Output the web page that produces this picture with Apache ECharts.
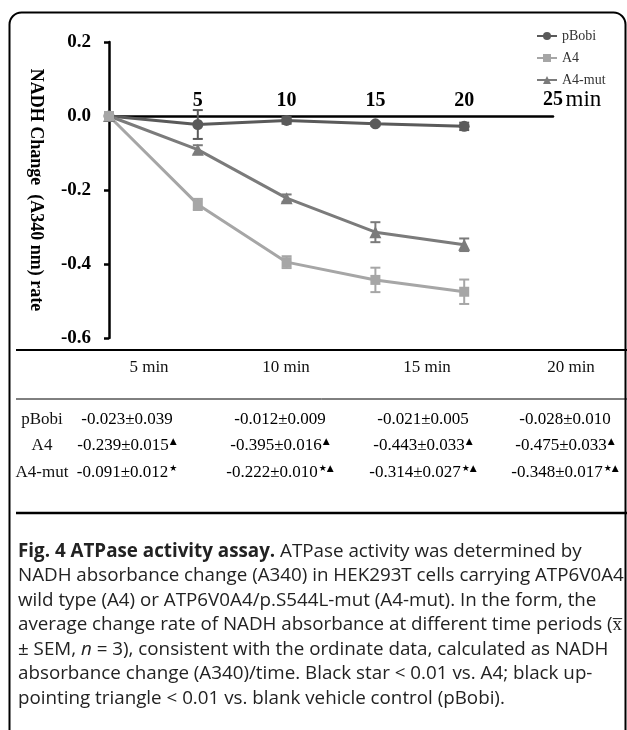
<!DOCTYPE html>
<html>
<head>
<meta charset="utf-8">
<title>ATPase activity assay</title>
<script src="https://cdn.jsdelivr.net/npm/echarts@6/dist/echarts.min.js"></script>
<style>
  html, body { margin: 0; padding: 0; background: #fff; }
  #chart { width: 627px; height: 730px; }
</style>
</head>
<body>
<div id="chart"></div>
<script>
// time points (min)
var times = [0, 5, 10, 15, 20];
var timeLabels = ['5 min', '10 min', '15 min', '20 min'];

// mean NADH change and SEM
var seriesNames = ['pBobi', 'A4', 'A4-mut'];
var pBobiMean = [0, -0.023, -0.012, -0.021, -0.028];
var pBobiSem  = [0, 0.039, 0.009, 0.005, 0.010];
var a4Mean    = [0, -0.239, -0.395, -0.443, -0.475];
var a4Sem     = [0, 0.015, 0.016, 0.033, 0.033];
var mutMean   = [0, -0.091, -0.222, -0.314, -0.348];
var mutSem    = [0, 0.012, 0.010, 0.027, 0.017];

// significance marks in the table (star vs A4, triangle vs pBobi)
var pBobiSig = ['', '', '', ''];
var a4Sig    = ['▲', '▲', '▲', '▲'];
var mutSig   = ['★', '★▲', '★▲', '★▲'];

var colors = { 'pBobi': '#5a5a5a', 'A4': '#a6a6a6', 'A4-mut': '#7b7b7b' };
var serif = 'Liberation Serif, Times New Roman, serif';

function pts(mean) {
  return times.map(function (t, i) { return [t, mean[i]]; });
}
function errPts(mean, sem) {
  return times.map(function (t, i) { return [t, mean[i], sem[i]]; });
}

function errorBar(color) {
  return function (params, api) {
    var x = api.value(0), m = api.value(1), e = api.value(2);
    if (!e) return;
    var top = api.coord([x, m + e]);
    var bot = api.coord([x, m - e]);
    var w = 5;
    var st = { stroke: color, lineWidth: 2 };
    return {
      type: 'group',
      children: [
        { type: 'line', shape: { x1: top[0], y1: top[1], x2: bot[0], y2: bot[1] }, style: st },
        { type: 'line', shape: { x1: top[0] - w, y1: top[1], x2: top[0] + w, y2: top[1] }, style: st },
        { type: 'line', shape: { x1: bot[0] - w, y1: bot[1], x2: bot[0] + w, y2: bot[1] }, style: st }
      ]
    };
  };
}

function lineSeries(name, mean, symbol, size) {
  return {
    name: name,
    type: 'line',
    data: pts(mean),
    symbol: symbol,
    symbolSize: size,
    showAllSymbol: true,
    lineStyle: { color: colors[name], width: 3 },
    itemStyle: { color: colors[name] },
    z: 3
  };
}
function errSeries(name, mean, sem) {
  return {
    name: name + ' err',
    type: 'custom',
    data: errPts(mean, sem),
    encode: { x: 0, y: 1 },
    renderItem: errorBar(colors[name]),
    z: 3
  };
}

// ---- table + caption as graphic text ----
var colCenters = [127, 280, 423, 565];
var headCenters = [149, 286, 427, 571];
var rowY = [420, 446, 473];
var rows = [
  { name: 'pBobi', mean: pBobiMean, sem: pBobiSem, sig: pBobiSig },
  { name: 'A4', mean: a4Mean, sem: a4Sem, sig: a4Sig },
  { name: 'A4-mut', mean: mutMean, sem: mutSem, sig: mutSig }
];
var tableRich = {
  v: { fontFamily: serif, fontSize: 17, color: '#111' },
  s: { fontFamily: 'DejaVu Sans', fontSize: 9, color: '#111', verticalAlign: 'top', padding: [0, 0, 8, 1] }
};

var graphics = [];
// rounded frame
graphics.push({
  type: 'rect', silent: true,
  shape: { x: 9.5, y: 12.5, width: 616, height: 760, r: 12 },
  style: { fill: 'none', stroke: '#000', lineWidth: 2 }
});
// table rules
graphics.push({ type: 'line', shape: { x1: 16, y1: 350, x2: 627, y2: 350 }, style: { stroke: '#000', lineWidth: 2 } });
graphics.push({ type: 'line', shape: { x1: 16, y1: 399, x2: 627, y2: 399 }, style: { stroke: '#000', lineWidth: 1 } });
graphics.push({ type: 'line', shape: { x1: 16, y1: 513, x2: 627, y2: 513 }, style: { stroke: '#000', lineWidth: 2.5 } });

timeLabels.forEach(function (lab, i) {
  graphics.push({
    type: 'text', x: headCenters[i], y: 368,
    style: { text: lab, font: '17px ' + serif, fill: '#111', textAlign: 'center', textVerticalAlign: 'middle' }
  });
});
rows.forEach(function (r, ri) {
  graphics.push({
    type: 'text', x: 42, y: rowY[ri],
    style: { text: r.name, font: '17px ' + serif, fill: '#111', textAlign: 'center', textVerticalAlign: 'middle' }
  });
  for (var c = 0; c < 4; c++) {
    var txt = '{v|' + r.mean[c + 1].toFixed(3) + '±' + r.sem[c + 1].toFixed(3) + '}';
    if (r.sig[c]) txt += '{s|' + r.sig[c] + '}';
    graphics.push({
      type: 'text', x: colCenters[c], y: rowY[ri],
      style: { text: txt, rich: tableRich, textAlign: 'center', textVerticalAlign: 'middle' }
    });
  }
});

var captionLines = [
  '{b|Fig. 4 ATPase activity assay.} ATPase activity was determined by',
  'NADH absorbance change (A340) in HEK293T cells carrying ATP6V0A4',
  'wild type (A4) or ATP6V0A4/p.S544L-mut (A4-mut). In the form, the',
  'average change rate of NADH absorbance at different time periods (x\u0305',
  '± SEM, {i|n} = 3), consistent with the ordinate data, calculated as NADH',
  'absorbance change (A340)/time. Black star < 0.01 vs. A4; black up-',
  'pointing triangle < 0.01 vs. blank vehicle control (pBobi).'
];
graphics.push({
  type: 'text', x: 18, y: 539,
  style: {
    text: captionLines.join('\n'),
    fontFamily: 'Open Sans', fontSize: 18.8, lineHeight: 24.5, fill: '#222',
    textAlign: 'left', textVerticalAlign: 'top',
    rich: {
      b: { fontFamily: 'Open Sans', fontWeight: 'bold', fontSize: 18.8, lineHeight: 24.5, color: '#111' },
      i: { fontFamily: 'Open Sans', fontStyle: 'italic', fontSize: 18.8, lineHeight: 24.5, color: '#222' }
    }
  }
});

var chart = echarts.init(document.getElementById('chart'));
chart.setOption({
  animation: false,
  backgroundColor: '#fff',
  grid: { left: 109, top: 42, width: 444, height: 296, containLabel: false },
  legend: {
    data: seriesNames,
    orient: 'vertical',
    left: 531, top: 24,
    itemWidth: 20, itemHeight: 10, itemGap: 8,
    textStyle: { fontFamily: serif, fontSize: 14, color: '#333' }
  },
  xAxis: {
    type: 'value', min: 0, max: 25, interval: 5,
    position: 'top',
    offset: -74,
    axisLine: { onZero: false, lineStyle: { color: '#000', width: 2.5 } },
    axisTick: { show: false },
    splitLine: { show: false },
    axisLabel: {
      margin: 5,
      formatter: function (v) {
        if (v === 0) return '';
        if (v === 25) return '{p|}{b|25}{m| min}';
        return '{b|' + v + '}';
      },
      rich: {
        b: { fontFamily: serif, fontWeight: 'bold', fontSize: 20, color: '#000' },
        m: { fontFamily: serif, fontSize: 23, color: '#000', width: 35 },
        p: { width: 35 }
      }
    }
  },
  yAxis: {
    type: 'value', min: -0.6, max: 0.2, interval: 0.2,
    name: 'NADH Change  (A340 nm) rate',
    nameLocation: 'middle', nameRotate: -90, nameGap: 64,
    nameTextStyle: { fontFamily: serif, fontWeight: 'bold', fontSize: 18, color: '#000' },
    axisLine: { onZero: false, lineStyle: { color: '#000', width: 2.5 } },
    axisTick: { length: 5, lineStyle: { color: '#000', width: 2.5 } },
    splitLine: { show: false },
    axisLabel: {
      margin: 18,
      formatter: function (v) { return v.toFixed(1); },
      fontFamily: serif, fontWeight: 'bold', fontSize: 19, color: '#000'
    }
  },
  graphic: graphics,
  series: [
    lineSeries('pBobi', pBobiMean, 'circle', 11),
    errSeries('pBobi', pBobiMean, pBobiSem),
    lineSeries('A4-mut', mutMean, 'triangle', 12),
    errSeries('A4-mut', mutMean, mutSem),
    lineSeries('A4', a4Mean, 'rect', 10),
    errSeries('A4', a4Mean, a4Sem)
  ]
});
</script>
</body>
</html>
